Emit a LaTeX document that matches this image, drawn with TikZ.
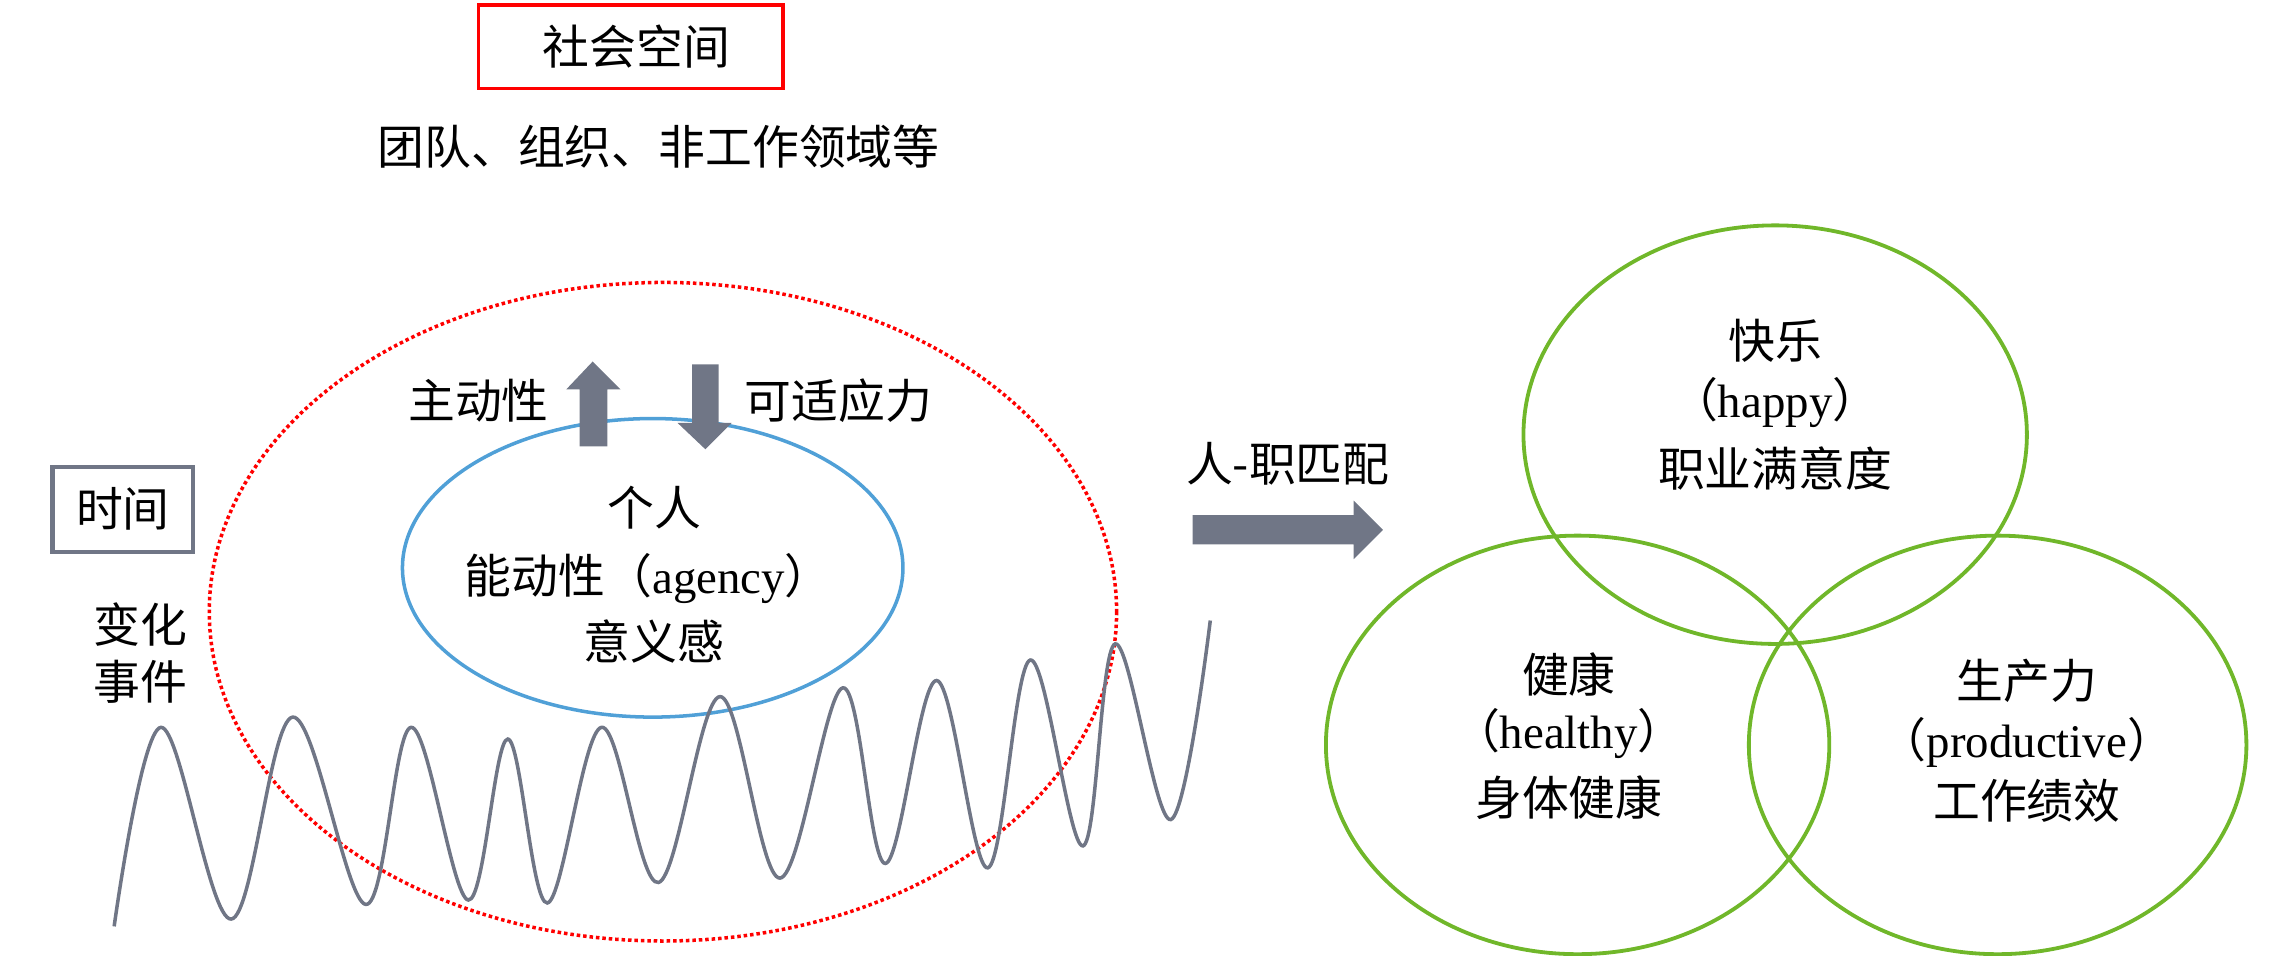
\documentclass[tikz,border=0pt]{standalone}
\usepackage{fontspec}
\setmainfont{Noto Sans CJK SC}
\newfontfamily\lat{Liberation Serif}
\begin{document}
\begin{tikzpicture}[x=0.5pt,y=-0.5pt,
  t/.style={font=\fontsize{16}{18}\selectfont,inner sep=0pt}]
\useasboundingbox (0,0) rectangle (1560,653);
\definecolor{ag}{RGB}{112,118,134}
\definecolor{gr}{RGB}{112,183,42}
\definecolor{bl}{RGB}{80,160,215}
\node[draw=red,line width=1.2pt,minimum width=104pt,minimum height=28.5pt,inner sep=0pt] (ss) at (431,32) {};
\node[t] (sst) at (435,32) {社会空间};
\node[t] (org) at (450,100) {团队、组织、非工作领域等};
\draw[red,densely dotted,line width=1.2pt] (453,418) ellipse [x radius=310,y radius=225];
\draw[bl,line width=1.2pt] (446,388) ellipse [x radius=171,y radius=102];
\fill[ag] (396,305) -- (396,266) -- (387,266) -- (405,247) -- (424,266) -- (415,266) -- (415,305) -- cycle;
\fill[ag] (473,249) -- (473,289) -- (463,289) -- (482,307) -- (500,289) -- (491,289) -- (491,249) -- cycle;
\node[t] (zd) at (327,274) {主动性};
\node[t] (ks) at (573,274) {可适应力};
\node[t] (gr1) at (447,347) {个人};
\node[t] (gr2) at (443,395) {能动性（{\lat agency}）};
\node[t] (gr3) at (447,438) {意义感};
\node[draw=ag,line width=1.5pt,minimum width=48pt,minimum height=29pt,inner sep=0pt] (sj) at (84,348) {};
\node[t] at (84,348) {时间};
\node[t] (bh) at (96,427) {变化};
\node[t] (sj2) at (96,466) {事件};
\draw[ag,line width=1.2pt] plot[smooth,tension=0.6] coordinates {(78,633) (110,497) (158,628) (200,490) (250,618) (281,497) (320,615) (347,505) (374,617) (411,497) (450,603) (492,476) (533,600) (576,470) (605,590) (640,465) (675,593) (704,451) (740,578) (762,440) (800,560) (827,424)};
\node[t] (pj) at (880,317) {人-职匹配};
\fill[ag] (815,352) -- (925,352) -- (925,342) -- (945,362) -- (925,382) -- (925,372) -- (815,372) -- cycle;
\draw[gr,line width=1.3pt] (1213,297) ellipse [x radius=172,y radius=143];
\draw[gr,line width=1.3pt] (1078,509) ellipse [x radius=172,y radius=143];
\draw[gr,line width=1.3pt] (1365,509) ellipse [x radius=170,y radius=143];
\node[t] at (1213,233) {快乐};
\node[t] at (1213,275) {（{\lat happy}）};
\node[t] at (1213,320) {职业满意度};
\node[t] at (1072,461) {健康};
\node[t] at (1072,501) {（{\lat healthy}）};
\node[t] at (1072,545) {身体健康};
\node[t] at (1385,465) {生产力};
\node[t] at (1385,507) {（{\lat productive}）};
\node[t] at (1385,547) {工作绩效};
\end{tikzpicture}
\end{document}
